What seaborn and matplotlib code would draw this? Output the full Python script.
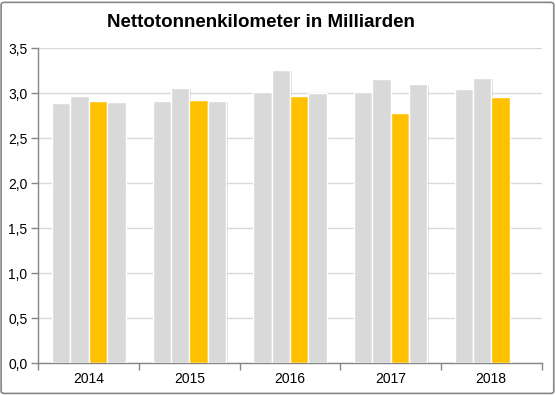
import numpy as np
import pandas as pd
import matplotlib
matplotlib.use("Agg")
import matplotlib.pyplot as plt
import matplotlib.patheffects as pe
from matplotlib.patches import FancyBboxPatch
import seaborn as sns

years = ["2014", "2015", "2016", "2017", "2018"]
series_names = ["Reihe 1", "Reihe 2", "Reihe 3", "Reihe 4"]
reihe1 = [2.89, 2.92, 3.02, 3.01, 3.05]
reihe2 = [2.97, 3.06, 3.26, 3.16, 3.17]
reihe3 = [2.91, 2.93, 2.97, 2.78, 2.96]
reihe4 = [2.90, 2.92, 3.00, 3.10, np.nan]
colors = ["#d9d9d9", "#d9d9d9", "#ffc000", "#d9d9d9"]
yticks = [0.0, 0.5, 1.0, 1.5, 2.0, 2.5, 3.0, 3.5]

df = pd.DataFrame({
    "Jahr": years * 4,
    "Reihe": [s for s in series_names for _ in years],
    "Wert": reihe1 + reihe2 + reihe3 + reihe4,
})

sns.set_style("white")
plt.rcParams["font.family"] = ["Liberation Sans", "DejaVu Sans"]

fig = plt.figure(figsize=(5.56, 3.95), dpi=100)
ax = fig.add_axes([0.0692, 0.0802, 0.9048, 0.7975])

sns.barplot(data=df, x="Jahr", y="Wert", hue="Reihe", palette=colors,
            width=0.73, gap=0, ax=ax, legend=False, saturation=1,
            edgecolor="white", linewidth=1.0, zorder=3)

for p in ax.patches:
    p.set_path_effects([pe.SimplePatchShadow(offset=(1.2, -0.8), shadow_rgbFace="#9a9a9a", alpha=0.35),
                        pe.Normal()])

ax.set_ylim(0, 3.5)
ax.set_xlim(-0.5, 4.5)
ax.set_yticks(yticks)
ax.set_yticklabels([f"{v:.1f}".replace(".", ",") for v in yticks], fontsize=10, color="black")
for lab in ax.get_xticklabels():
    lab.set_color("black")
ax.yaxis.grid(True, color="#d9d9d9", linewidth=1.0, zorder=0)
ax.set_axisbelow(True)
ax.set_xlabel("")
ax.set_ylabel("")
ax.tick_params(axis="x", length=0, labelsize=10, pad=6, labelcolor="black")
ax.tick_params(axis="y", length=5, color="#868686", width=1, left=True, pad=3, labelcolor="black")

# category boundary ticks on x
ax.set_xticks(np.arange(-0.5, 5.0, 1.0), minor=True)
ax.tick_params(axis="x", which="minor", length=5, color="#868686", width=1, bottom=True)

for s in ["top", "right"]:
    ax.spines[s].set_visible(False)
for s in ["left", "bottom"]:
    ax.spines[s].set_color("#868686")
    ax.spines[s].set_linewidth(1.0)

fig.text(0.47, 0.942, "Nettotonnenkilometer in Milliarden", ha="center", va="center",
         fontsize=13.5, fontweight="bold", color="black")

border = FancyBboxPatch((0.002, 0.004), 0.994, 0.99, boxstyle="round,pad=0,rounding_size=0.006",
                        transform=fig.transFigure, fill=False, edgecolor="#868686", linewidth=1.2)
fig.patches.append(border)

fig.savefig("out.png", dpi=100)
